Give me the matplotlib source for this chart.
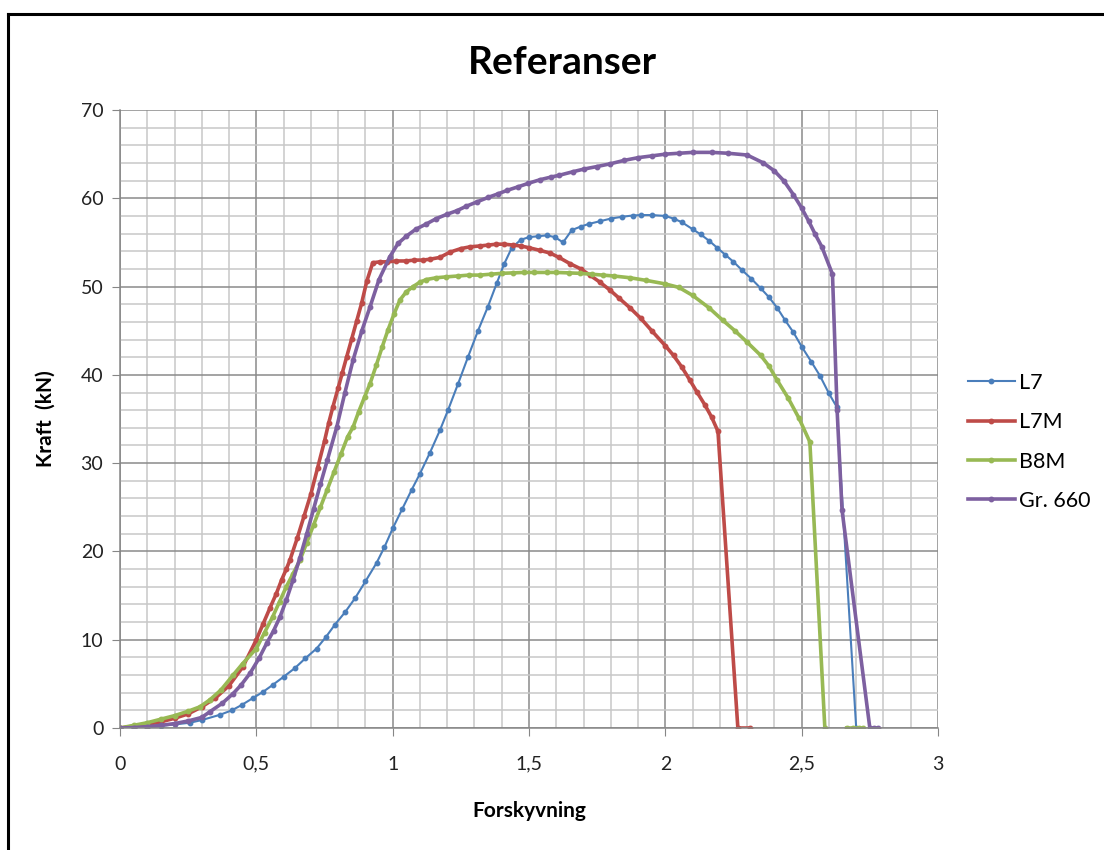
import numpy as np
import matplotlib
matplotlib.use("Agg")
import matplotlib.pyplot as plt
from matplotlib.ticker import MultipleLocator, FuncFormatter
from matplotlib.lines import Line2D

plt.rcParams['font.family'] = ['Lato', 'DejaVu Sans']

# ---- data ----
l7_x = [0, 0.05, 0.1, 0.15, 0.2, 0.257, 0.3, 0.367, 0.41, 0.446, 0.488, 0.525, 0.561, 0.6,
        0.642, 0.68, 0.721, 0.755, 0.788, 0.825, 0.862, 0.9, 0.941, 0.97, 1.0, 1.035, 1.07,
        1.1, 1.137, 1.173, 1.203, 1.24, 1.276, 1.313, 1.349, 1.382, 1.408, 1.437, 1.47, 1.50,
        1.533, 1.565, 1.595, 1.625, 1.657, 1.69, 1.72, 1.76, 1.8, 1.84, 1.88, 1.91, 1.95, 2.0,
        2.03, 2.06, 2.1, 2.13, 2.16, 2.19, 2.22, 2.25, 2.28, 2.315, 2.35, 2.38, 2.41, 2.439,
        2.47, 2.50, 2.535, 2.567, 2.6, 2.628, 2.70]
l7_y = [0, 0.05, 0.15, 0.25, 0.4, 0.6, 0.9, 1.5, 2.0, 2.6, 3.4, 4.1, 4.9, 5.8, 6.8, 7.9, 9.0,
        10.3, 11.7, 13.1, 14.7, 16.6, 18.7, 20.5, 22.6, 24.8, 27.0, 28.8, 31.2, 33.7, 36.0,
        39.0, 42.0, 45.0, 47.7, 50.4, 52.5, 54.4, 55.3, 55.6, 55.7, 55.8, 55.6, 55.0, 56.4,
        56.8, 57.1, 57.4, 57.7, 57.9, 58.05, 58.1, 58.1, 58.0, 57.7, 57.3, 56.5, 55.9, 55.2,
        54.4, 53.6, 52.8, 51.9, 50.9, 49.8, 48.8, 47.6, 46.2, 44.8, 43.2, 41.5, 39.9, 37.9,
        36.4, 0]

l7m_x = [0, 0.05, 0.1, 0.15, 0.2, 0.25, 0.3, 0.35, 0.4, 0.45, 0.5, 0.525, 0.55, 0.573, 0.593,
         0.61, 0.623, 0.65, 0.675, 0.7, 0.725, 0.75, 0.765, 0.781, 0.8, 0.815, 0.831, 0.85,
         0.868, 0.886, 0.905, 0.927, 0.953, 0.98, 1.014, 1.05, 1.08, 1.11, 1.137, 1.173, 1.21,
         1.25, 1.283, 1.32, 1.35, 1.38, 1.41, 1.44, 1.47, 1.50, 1.54, 1.577, 1.61, 1.65, 1.69,
         1.723, 1.76, 1.797, 1.83, 1.87, 1.91, 1.95, 2.0, 2.03, 2.06, 2.09, 2.115, 2.145, 2.17,
         2.193, 2.266, 2.31]
l7m_y = [0, 0.2, 0.4, 0.7, 1.1, 1.6, 2.4, 3.4, 4.8, 6.9, 10.0, 11.8, 13.6, 15.2, 16.8, 18.0,
         19.0, 21.5, 24.0, 26.5, 29.5, 32.5, 34.5, 36.4, 38.5, 40.2, 42.0, 44.1, 46.1, 48.1,
         50.6, 52.7, 52.8, 52.8, 52.9, 52.9, 53.0, 53.0, 53.1, 53.3, 53.9, 54.3, 54.5, 54.6,
         54.7, 54.8, 54.8, 54.7, 54.6, 54.4, 54.1, 53.8, 53.3, 52.6, 52.0, 51.3, 50.5, 49.6,
         48.7, 47.6, 46.4, 45.0, 43.3, 42.2, 40.9, 39.4, 38.1, 36.6, 35.2, 33.6, 0, 0]

b8m_x = [0, 0.05, 0.1, 0.15, 0.2, 0.25, 0.293, 0.33, 0.37, 0.415, 0.45, 0.5, 0.53, 0.56, 0.585,
         0.61, 0.635, 0.66, 0.685, 0.71, 0.735, 0.76, 0.785, 0.81, 0.835, 0.855, 0.875, 0.897,
         0.917, 0.94, 0.962, 0.983, 1.005, 1.027, 1.05, 1.075, 1.1, 1.124, 1.16, 1.197, 1.24,
         1.28, 1.32, 1.36, 1.40, 1.44, 1.48, 1.52, 1.565, 1.60, 1.645, 1.687, 1.73, 1.77, 1.81,
         1.87, 1.93, 2.0, 2.05, 2.1, 2.16, 2.21, 2.255, 2.3, 2.35, 2.38, 2.41, 2.45, 2.49, 2.53,
         2.585, np.nan, 2.665, 2.69, 2.71, 2.725]
b8m_y = [0, 0.3, 0.6, 1.0, 1.4, 1.9, 2.4, 3.2, 4.3, 6.0, 7.3, 9.0, 10.8, 12.6, 14.3, 16.0,
         17.5, 19.0, 21.0, 23.0, 25.0, 27.0, 29.0, 31.0, 33.0, 34.1, 35.8, 37.5, 39.0, 41.1,
         43.2, 45.1, 46.9, 48.5, 49.4, 50.0, 50.5, 50.8, 51.0, 51.1, 51.2, 51.3, 51.3, 51.4,
         51.5, 51.55, 51.6, 51.6, 51.6, 51.6, 51.55, 51.5, 51.4, 51.3, 51.2, 51.0, 50.7, 50.3,
         49.9, 49.0, 47.6, 46.2, 45.0, 43.7, 42.2, 41.0, 39.4, 37.4, 35.1, 32.4, 0, np.nan,
         0, 0, 0, 0]

gr660_x = [0, 0.05, 0.1, 0.15, 0.2, 0.25, 0.3, 0.33, 0.375, 0.415, 0.445, 0.477, 0.51, 0.538,
           0.563, 0.587, 0.61, 0.635, 0.66, 0.685, 0.71, 0.735, 0.76, 0.795, 0.825, 0.855,
           0.887, 0.917, 0.95, 0.99, 1.02, 1.05, 1.085, 1.124, 1.16, 1.2, 1.236, 1.27, 1.31,
           1.35, 1.386, 1.42, 1.46, 1.498, 1.54, 1.58, 1.61, 1.66, 1.70, 1.75, 1.797, 1.85,
           1.90, 1.95, 2.0, 2.05, 2.1, 2.17, 2.23, 2.30, 2.36, 2.40, 2.434, 2.47, 2.50, 2.526,
           2.55, 2.574, 2.613, 2.63, 2.648, 2.75, 2.765, 2.78]
gr660_y = [0, 0.05, 0.15, 0.3, 0.5, 0.8, 1.2, 1.85, 2.8, 3.9, 4.9, 6.2, 7.9, 9.6, 11.0, 12.6,
           14.5, 16.8, 19.3, 22.0, 24.8, 27.6, 30.3, 34.1, 38.0, 41.7, 45.0, 47.7, 50.8, 53.4,
           54.9, 55.7, 56.5, 57.1, 57.7, 58.2, 58.6, 59.1, 59.6, 60.1, 60.5, 60.9, 61.3, 61.7,
           62.1, 62.4, 62.6, 63.0, 63.3, 63.6, 63.9, 64.3, 64.6, 64.8, 65.0, 65.1, 65.2, 65.2,
           65.1, 64.9, 64.0, 63.1, 62.0, 60.4, 58.9, 57.4, 55.9, 54.5, 51.4, 36.0, 24.7, 0, 0, 0]

series = [
    ("L7", l7_x, l7_y, "#4A7EBB", 1.5),
    ("L7M", l7m_x, l7m_y, "#BE4B48", 2.6),
    ("B8M", b8m_x, b8m_y, "#98B954", 2.6),
    ("Gr. 660", gr660_x, gr660_y, "#7D60A0", 2.6),
]

fig = plt.figure(figsize=(11.04, 8.5), dpi=100)
ax = fig.add_axes([120 / 1104, 122 / 850, 818 / 1104, 618 / 850])

for name, xs, ys, col, lw in series:
    ax.plot(xs, ys, color=col, lw=lw, marker='o', ms=3.2, mec=col, mfc=col, label=name)

ax.set_xlim(0, 3)
ax.set_ylim(0, 70)
ax.xaxis.set_major_locator(MultipleLocator(0.5))
ax.xaxis.set_minor_locator(MultipleLocator(0.1))
ax.yaxis.set_major_locator(MultipleLocator(10))
ax.yaxis.set_minor_locator(MultipleLocator(2))
ax.xaxis.set_major_formatter(FuncFormatter(lambda v, p: f"{v:g}".replace('.', ',')))
ax.grid(which='major', color='#8a8a8a', lw=1.1)
ax.grid(which='minor', color='#c8c8c8', lw=1.1)
ax.set_axisbelow(True)
for s in ['top', 'right']:
    ax.spines[s].set_visible(False)
for s in ['left', 'bottom']:
    ax.spines[s].set_color('#868686')
    ax.spines[s].set_linewidth(1.1)
ax.tick_params(which='major', direction='out', length=6, color='#868686', labelsize=14,
               labelcolor='#222222', pad=6)
ax.tick_params(which='minor', length=0)
ax.tick_params(axis='x', pad=14)

# title is centred on the whole chart, not on the plot area
fig.text(562 / 1104, 1 - 62 / 850, "Referanser", fontsize=28, fontweight='bold',
         ha='center', va='center')
ax.set_xlabel("Forskyvning", fontsize=15, fontweight='bold', labelpad=20)
ax.set_ylabel("Kraft  (kN)", fontsize=15, fontweight='bold', labelpad=18)

ax.legend(loc='upper left', bbox_to_anchor=(957 / 1104, 1 - 362 / 850),
          bbox_transform=fig.transFigure, frameon=False, fontsize=15.5,
          handlelength=2.2, handletextpad=0.2, labelspacing=0.9, borderpad=0)

# chart frame (top and left edge visible in the screenshot)
fig.add_artist(Line2D([8 / 1104, 1], [1 - 14 / 850, 1 - 14 / 850], color='black', lw=2.2,
                      transform=fig.transFigure))
fig.add_artist(Line2D([8 / 1104, 8 / 1104], [0, 1 - 14 / 850], color='black', lw=2.2,
                      transform=fig.transFigure))

fig.savefig("out.png", dpi=100)
